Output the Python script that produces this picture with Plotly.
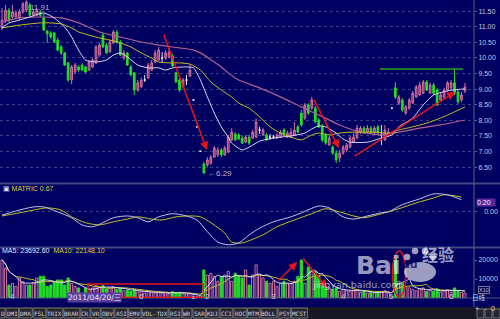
import plotly.graph_objects as go
import pandas as pd

# ---------------- data ----------------
opens = [10.96,11.21,11.53,11.31,11.31,11.28,11.47,11.53,11.70,11.37,11.37,11.47,11.28,10.86,10.80,10.80,10.57,10.35,10.16,9.84,
         9.29,9.55,9.71,9.77,9.71,9.61,9.71,9.84,10.09,10.73,10.41,10.19,10.48,10.83,10.51,9.99,10.16,9.71,9.52,8.97,
         9.07,9.29,9.36,9.61,9.87,9.93,9.99,9.99,10.03,10.06,9.52,9.29,9.07,9.29,9.42,8.65,7.79,7.01,6.60,6.57,
         6.63,6.82,6.89,7.05,6.89,6.98,7.37,7.56,7.53,7.43,7.30,7.46,7.43,7.46,7.69,7.53,7.53,7.46,7.46,7.43,
         7.46,7.69,7.46,7.46,7.53,7.79,8.23,8.07,8.49,8.39,8.39,8.01,7.79,7.53,7.21,7.14,6.95,6.79,6.95,7.05,
         7.14,7.30,7.43,7.62,7.75,7.62,7.75,7.59,7.79,7.53,7.37,7.53,8.39,9.04,8.55,8.65,8.23,8.39,8.55,8.75,
         8.81,8.87,9.23,8.87,9.13,8.97,8.65,8.75,8.97,9.04,9.20,8.91,8.65,8.94]
highs = [11.60,11.70,11.60,11.70,11.53,11.57,11.79,11.91,11.76,11.57,11.60,11.53,11.41,10.89,10.86,10.83,10.64,10.41,10.19,9.87,
         9.77,9.84,9.77,9.84,9.74,9.93,9.99,10.41,10.48,10.80,10.48,10.57,10.89,10.89,10.57,10.25,10.19,9.77,9.55,9.29,
         9.36,9.45,9.84,9.93,10.25,10.35,10.19,10.25,10.32,10.13,9.55,9.36,9.36,9.45,9.77,8.65,7.79,7.01,6.66,6.82,
         6.89,7.18,7.14,7.11,7.18,7.53,7.75,7.62,7.59,7.50,7.53,7.53,7.69,8.07,7.79,7.75,7.59,7.56,7.53,7.59,
         7.69,7.75,7.66,7.75,7.95,7.85,8.33,8.55,8.55,8.75,8.46,8.07,7.88,7.59,7.50,7.21,7.05,7.05,7.21,7.27,
         7.50,7.59,7.85,7.82,7.82,7.85,7.82,7.82,7.85,7.85,7.85,7.75,8.39,9.22,8.81,8.71,8.49,8.71,8.94,9.13,
         9.23,9.29,9.29,9.20,9.20,9.04,8.91,9.04,9.26,9.29,9.62,8.97,8.91,9.20]
lows = [10.89,11.12,11.15,11.25,11.25,11.21,11.41,11.47,11.34,11.31,11.34,11.31,10.86,10.48,10.61,10.48,10.22,10.09,9.74,9.23,
        9.16,9.48,9.55,9.58,9.52,9.58,9.68,9.80,10.03,10.32,10.13,10.16,10.45,10.45,10.06,9.93,9.74,9.42,8.81,8.91,
        9.04,9.23,9.32,9.58,9.84,9.90,9.87,9.93,9.99,9.71,9.20,8.91,9.04,9.13,9.39,8.65,7.79,7.01,6.29,6.50,
        6.57,6.79,6.82,6.82,6.86,6.95,7.34,7.34,7.37,7.24,7.27,7.21,7.40,7.43,7.56,7.50,7.34,7.37,7.40,7.40,
        7.43,7.50,7.43,7.43,7.50,7.59,7.79,8.01,8.17,8.33,7.91,7.75,7.30,7.21,7.18,6.89,6.63,6.66,6.89,6.98,
        7.11,7.27,7.40,7.56,7.56,7.59,7.56,7.53,7.53,7.21,7.34,7.50,8.39,8.68,8.49,8.27,8.17,8.33,8.52,8.71,
        8.78,8.84,8.94,8.84,8.81,8.46,8.59,8.68,8.91,8.97,8.81,8.52,8.59,8.87]
closes = [11.21,11.53,11.21,11.47,11.44,11.47,11.73,11.79,11.37,11.47,11.53,11.37,10.89,10.77,10.67,10.51,10.25,10.16,9.77,9.29,
          9.71,9.77,9.61,9.61,9.55,9.87,9.93,10.35,10.41,10.35,10.16,10.51,10.83,10.51,10.09,10.16,9.77,9.45,8.97,9.20,
          9.29,9.29,9.77,9.84,10.16,10.25,9.99,10.16,10.19,9.74,9.23,8.97,9.29,9.29,9.61,8.65,7.79,7.01,6.31,6.73,
          6.82,7.11,7.05,6.89,7.11,7.46,7.62,7.37,7.40,7.27,7.46,7.27,7.62,7.95,7.69,7.69,7.37,7.46,7.46,7.53,
          7.62,7.53,7.59,7.62,7.69,7.62,7.85,8.49,8.23,8.65,7.95,7.79,7.37,7.27,7.43,6.95,6.73,6.95,7.14,7.21,
          7.43,7.46,7.75,7.75,7.62,7.75,7.59,7.75,7.59,7.53,7.69,7.62,8.39,8.75,8.75,8.33,8.43,8.65,8.87,9.07,
          9.13,9.23,8.97,9.13,8.87,8.49,8.81,8.97,9.20,9.20,8.87,8.59,8.81,9.07]
volumes = [20000,15800,6800,7700,6000,10500,8600,6800,6800,7700,10500,11400,11400,6000,6800,8200,9500,9500,6800,10500,
           7700,6000,5300,2600,5300,4500,5300,6500,5800,6500,4800,5300,6000,4500,5300,3800,4200,3500,4500,3200,
           3500,2600,3500,3000,2600,3200,2400,2800,2300,3300,2600,3000,2200,2000,2400,800,900,1100,14700,12100,
           13000,11400,8800,11400,12100,14000,8800,13000,11400,10500,14700,6800,12100,17400,12100,10500,8800,7700,8800,6000,
           7700,8800,7700,7700,8800,11400,20000,7700,16300,14700,14000,11400,7700,6000,5300,4400,5300,3500,4400,3800,
           3500,4200,4400,3000,3500,2600,3000,2400,3200,3500,3800,2600,900,21000,8800,7700,6000,5300,4400,3800,
           4800,5300,3500,4200,3500,4800,3200,3800,4400,3000,5300,3800,3000,2600]

ma_white_idx = [0,2,5,8,12,15,18,20,22,24,27,30,32,34,36,39,42,45,47,49,53,55,57,59,61,63,65,66,69,71,
                74,78,83,87,89,91,93,96,98,100,105,109,112,114,118,121,124,128,132,133]
ma_white_val = [10.96,11.12,11.21,11.31,11.44,11.28,10.99,10.67,10.25,9.93,9.87,9.93,10.09,10.16,10.03,9.77,9.68,9.68,9.61,9.68,
                9.71,9.68,9.29,8.75,8.23,7.79,7.46,7.27,7.05,7.14,7.33,7.43,7.50,7.59,7.72,7.82,7.79,7.59,7.40,7.30,
                7.30,7.43,7.53,7.79,8.07,8.49,8.81,8.94,9.00,9.00]
ma_yellow_idx = [0,5,11,14,17,20,22,25,28,31,34,37,40,43,45,48,51,54,57,60,63,66,68,71,74,77,80,83,86,89,
                 91,94,97,100,103,107,111,114,118,122,126,130,133]
ma_yellow_val = [10.96,11.05,11.12,11.12,11.09,10.96,10.83,10.73,10.64,10.57,10.48,10.35,10.16,9.99,9.87,9.84,9.84,9.80,9.61,9.23,
                 8.97,8.75,8.55,8.39,8.11,7.79,7.59,7.46,7.37,7.53,7.59,7.53,7.59,7.62,7.62,7.62,7.59,7.69,7.79,7.91,
                 8.07,8.27,8.43]
ma_mauve_idx = [0,5,11,17,22,28,34,40,45,51,55,57,63,65,68,74,80,86,91,97,103,109,114,120,126,133]
ma_mauve_val = [11.15,11.28,11.31,11.28,11.12,10.83,10.67,10.51,10.41,10.32,10.25,10.16,9.71,9.52,9.29,9.04,8.75,8.43,8.17,7.85,
                7.62,7.53,7.62,7.75,7.85,8.01]

mtx_white_idx = [0,4,9,12,16,20,23,26,29,32,36,39,42,45,49,53,56,59,62,65,68,71,74,78,83,86,91,94,98,101,
                 105,109,111,115,120,124,128,132]
mtx_white_val = [-0.07,0.02,0.11,0.11,0.00,-0.13,-0.29,-0.33,-0.24,-0.13,-0.09,-0.13,-0.22,-0.11,-0.04,-0.09,-0.18,-0.44,-0.67,-0.73,
                 -0.69,-0.51,-0.36,-0.22,-0.11,-0.02,0.13,0.09,-0.11,-0.16,-0.09,-0.02,0.00,0.16,0.29,0.40,0.38,0.27]
mtx_yellow_idx = [0,5,9,13,17,20,24,28,32,36,39,43,46,50,54,57,60,64,66,69,71,75,79,84,89,93,97,101,104,109,
                  114,119,124,127,132]
mtx_yellow_val = [-0.09,-0.02,0.04,0.09,0.04,-0.11,-0.24,-0.29,-0.22,-0.16,-0.11,-0.16,-0.18,-0.11,-0.09,-0.11,-0.24,-0.47,-0.67,-0.69,
                  -0.64,-0.51,-0.33,-0.18,-0.04,0.07,0.00,-0.09,-0.13,-0.04,0.07,0.20,0.31,0.38,0.33]

month_tick_idx = [3, 40, 55, 59, 78, 98, 112, 129]
month_tick_txt = ["4", "6", "1", "2", "3", "4", "5", "6"]
price_ticks = [6.5, 7.0, 7.5, 8.0, 8.5, 9.0, 9.5, 10.0, 10.5, 11.0, 11.5]
vol_ticks = [10000, 20000]
buttons = ["DMI","DMA","FSL","TRIX","BRAR","CR","VR","OBV","ASI","EMV","VOL-TDX","RSI","WR","SAR",
           "KDJ","CCI","ROC","MTM","BOLL","PSY","MCST"]

# ---------------- styling ----------------
W, H = 500, 319
BG = "#000060"
GRID = "#36428c"
TXT = "#c4c8dc"
UP_LINE, UP_FILL = "#d0709c", "#8a3468"
DN = "#22e022"
WHITE_MA, YEL_MA, MAUVE_MA = "#dcdcf4", "#c8c020", "#b4608e"
RED = "#e8141a"
PX = 474 / W

def py(p):  # pixel row -> paper y
    return 1 - p / H

n = len(closes)
idx = list(range(n))
normal = [i for i in idx if opens[i] != closes[i]]
doji = [i for i in idx if opens[i] == closes[i]]

fig = go.Figure()

fig.add_trace(go.Candlestick(
    x=normal, open=[opens[i] for i in normal], high=[highs[i] for i in normal],
    low=[lows[i] for i in normal], close=[closes[i] for i in normal],
    increasing=dict(line=dict(color=UP_LINE, width=1), fillcolor=UP_FILL),
    decreasing=dict(line=dict(color=DN, width=1), fillcolor=DN),
    whiskerwidth=0, xaxis="x", yaxis="y", hoverinfo="skip", showlegend=False))
fig.add_trace(go.Candlestick(
    x=doji, open=[opens[i] for i in doji], high=[highs[i] for i in doji],
    low=[lows[i] for i in doji], close=[closes[i] for i in doji],
    increasing=dict(line=dict(color="#e8e8f8", width=1), fillcolor="#e8e8f8"),
    decreasing=dict(line=dict(color="#e8e8f8", width=1), fillcolor="#e8e8f8"),
    whiskerwidth=0, xaxis="x", yaxis="y", hoverinfo="skip", showlegend=False))

for xs, ys, col, wd in [(ma_mauve_idx, ma_mauve_val, MAUVE_MA, 1.2), (ma_yellow_idx, ma_yellow_val, YEL_MA, 1),
                        (ma_white_idx, ma_white_val, WHITE_MA, 1)]:
    fig.add_trace(go.Scatter(x=xs, y=ys, mode="lines", line=dict(color=col, width=wd, shape="spline", smoothing=0.6),
                             xaxis="x", yaxis="y", hoverinfo="skip", showlegend=False))

for xs, ys, col in [(mtx_yellow_idx, mtx_yellow_val, YEL_MA), (mtx_white_idx, mtx_white_val, "#c0c0e4")]:
    fig.add_trace(go.Scatter(x=xs, y=ys, mode="lines", line=dict(color=col, width=1, shape="spline", smoothing=0.8),
                             xaxis="x", yaxis="y2", hoverinfo="skip", showlegend=False))

up = [closes[i] >= opens[i] for i in idx]
fig.add_trace(go.Bar(x=idx, y=volumes, width=0.62,
                     marker=dict(color=[BG if u else DN for u in up],
                                 line=dict(color=[UP_LINE if u else DN for u in up], width=1)),
                     xaxis="x", yaxis="y3", hoverinfo="skip", showlegend=False))
vs = pd.Series(volumes, dtype=float)
fig.add_trace(go.Scatter(x=idx, y=vs.rolling(10, min_periods=1).mean(), mode="lines",
                         line=dict(color=YEL_MA, width=1, shape="spline"), xaxis="x", yaxis="y3",
                         hoverinfo="skip", showlegend=False))
fig.add_trace(go.Scatter(x=idx, y=vs.rolling(5, min_periods=1).mean(), mode="lines",
                         line=dict(color=WHITE_MA, width=1, shape="spline"), xaxis="x", yaxis="y3",
                         hoverinfo="skip", showlegend=False))

font = "Liberation Sans, DejaVu Sans, Noto Sans CJK SC"
shapes = []
ann = []

# panel separators and frame
for yy in (183.5, 247.5):
    shapes.append(dict(type="line", xref="paper", yref="paper", x0=0, x1=1, y0=py(yy), y1=py(yy),
                       line=dict(color="#3c4a80", width=2)))
shapes.append(dict(type="line", xref="paper", yref="paper", x0=0, x1=1, y0=py(298), y1=py(298),
                   line=dict(color="#4a5878", width=1)))
shapes.append(dict(type="line", xref="paper", yref="paper", x0=PX, x1=PX, y0=py(307), y1=1,
                   line=dict(color="#4a6a7a", width=1)))
# button bar
shapes.append(dict(type="rect", xref="paper", yref="paper", x0=0, x1=1, y0=0, y1=py(307),
                   fillcolor="#181824", line=dict(width=0), layer="above"))
bx = -3.0
labels_all = ["D"] + buttons
for j, b in enumerate(labels_all):
    w = 3.4 * len(b) + 2.4 if j else 8
    shapes.append(dict(type="rect", xref="paper", yref="paper", x0=bx / W, x1=(bx + w) / W,
                       y0=py(318), y1=py(308), fillcolor="#26262f", line=dict(color="#70707c", width=1), layer="above"))
    ann.append(dict(xref="paper", yref="paper", x=(bx + w / 2 + (2 if j == 0 else 0)) / W, y=py(313), text=b,
                    showarrow=False, font=dict(family="DejaVu Sans Mono", size=6, color="#d8d8e0"),
                    xanchor="center", yanchor="middle"))
    bx += w + 1
for k, t in enumerate(["+", "-", "0"]):
    x0 = 477 + k * 8
    shapes.append(dict(type="rect", xref="paper", yref="paper", x0=x0 / W, x1=(x0 + 7) / W, y0=py(318), y1=py(309),
                       fillcolor="#26262f", line=dict(color="#70707c", width=1), layer="above"))
    ann.append(dict(xref="paper", yref="paper", x=(x0 + 3.5) / W, y=py(313.5), text=t, showarrow=False,
                    font=dict(family=font, size=7, color="#d8d8e0")))
ann.append(dict(xref="paper", yref="paper", x=488 / W, y=py(303.5), text="日线", showarrow=False,
                font=dict(family="Noto Sans CJK SC", size=6.5, color="#d8d8e0")))

# month labels and date box
for t, v in zip(month_tick_txt, month_tick_idx):
    ann.append(dict(xref="x", yref="paper", x=v, y=py(302.5), text=t, showarrow=False,
                    font=dict(family=font, size=8, color=TXT)))
ann.append(dict(xref="paper", yref="paper", x=67 / W, y=py(302.5), text="2011/04/20/三", showarrow=False,
                bgcolor="#5a3c98", borderpad=0, font=dict(family="DejaVu Sans, Noto Sans CJK SC", size=7.5, color="#f0f0ff")))

# panel titles
ann.append(dict(xref="paper", yref="paper", x=0.002, y=py(188), xanchor="left", yanchor="middle", showarrow=False,
                text="<span style='color:#e0e0f0'>▣</span> MATRIC 0.67",
                font=dict(family=font, size=7, color="#dcd040")))
ann.append(dict(xref="paper", yref="paper", x=0.0, y=py(250.5), xanchor="left", yanchor="middle", showarrow=False,
                text="MA5: 23692.60  <span style='color:#dcd040'>MA10: 22148.10</span>",
                font=dict(family=font, size=7, color="#e8e8f8")))
ann.append(dict(xref="paper", yref="y2", x=PX + 0.003, y=0.2, xanchor="left", yanchor="middle", showarrow=False,
                text="0.20  ", bgcolor="#5a2a9c", borderpad=0, font=dict(family=font, size=7, color="#f0f0ff")))
ann.append(dict(xref="paper", yref="paper", x=478 / W, y=py(289.5), xanchor="left", yanchor="middle", showarrow=False,
                text="X10", bordercolor="#7a7a8a", borderwidth=1, borderpad=0,
                font=dict(family=font, size=5.5, color="#c8c8d8")))

# high / low labels
ann.append(dict(xref="x", yref="paper", x=11, y=py(1), text="11.91", showarrow=False,
                font=dict(family=font, size=8, color="#b0b0c8")))
ann.append(dict(xref="x", yref="y", x=58.6, y=6.30, xanchor="left", yanchor="middle", text="←6.29",
                showarrow=False, font=dict(family=font, size=8, color="#b8b8cc")))

# red markings
for (x0, y0, x1, y1, yr) in [(46.3, 10.80, 58.9, 7.05, "y"), (89.4, 8.71, 96.8, 7.11, "y"),
                             (100.9, 6.82, 130.2, 8.91, "y"), (79, 8400, 84.8, 18900, "y3"),
                             (86.2, 21600, 93.4, 5300, "y3")]:
    ann.append(dict(xref="x", yref=yr, axref="x", ayref=yr, x=x1, y=y1, ax=x0, ay=y0, text="",
                    showarrow=True, arrowhead=2, arrowsize=1.1, arrowwidth=1.5, arrowcolor=RED))
shapes.append(dict(type="line", xref="x", yref="y", x0=108.6, x1=132.5, y0=9.64, y1=9.64,
                   line=dict(color="#1c7a30", width=2)))
shapes.append(dict(type="circle", xref="x", yref="y3", x0=112.2, x1=116.0, y0=600, y1=24700,
                   line=dict(color=RED, width=1.5)))
shapes.append(dict(type="rect", xref="x", yref="y3", x0=24.7, x1=57.8, y0=200, y1=7370,
                   line=dict(color=RED, width=1.5)))

# watermark
wm = "rgba(255,255,255,0.62)"
ann.append(dict(xref="paper", yref="paper", x=354 / W, y=py(265.5), xanchor="left", yanchor="middle", showarrow=False,
                text="<b>Bai</b>", font=dict(family="DejaVu Sans", size=25, color=wm)))
for (cx, cy, r) in [(407, 257, 3.3), (415, 251, 3.3), (425, 251, 3.3), (433, 257, 3.3)]:
    shapes.append(dict(type="circle", xref="paper", yref="paper", x0=(cx - r) / W, x1=(cx + r) / W,
                       y0=py(cy + r), y1=py(cy - r), fillcolor=wm, line=dict(width=0), layer="above"))
shapes.append(dict(type="circle", xref="paper", yref="paper", x0=404 / W, x1=436 / W, y0=py(282), y1=py(262),
                   fillcolor=wm, line=dict(width=0), layer="above"))
ann.append(dict(xref="paper", yref="paper", x=420 / W, y=py(273), showarrow=False, text="<b>du</b>",
                font=dict(family="DejaVu Sans", size=11, color="rgba(0,0,96,0.75)")))
ann.append(dict(xref="paper", yref="paper", x=456 / W, y=py(268), showarrow=False, text="<b>经验</b>",
                font=dict(family="Noto Sans CJK SC", size=16, color=wm)))
ann.append(dict(xref="paper", yref="paper", x=403 / W, y=py(292), showarrow=False, text="jingyan.baidu.com",
                font=dict(family="DejaVu Sans", size=9.5, color=wm)))

axis_common = dict(anchor="x", side="right", zeroline=False, showline=False, automargin=False,
                   tickfont=dict(family=font, size=7, color=TXT), ticks="outside", ticklen=2,
                   tickcolor="#5a6a8a", fixedrange=True)

fig.update_layout(
    width=W, height=H, margin=dict(l=0, r=0, t=0, b=0, pad=0),
    paper_bgcolor=BG, plot_bgcolor=BG, showlegend=False, hovermode=False,
    xaxis=dict(domain=[0, PX], range=[-0.575, 135.6], anchor="y3", showgrid=False, zeroline=False,
               showticklabels=False, ticks="", showline=False, rangeslider=dict(visible=False), fixedrange=True),
    yaxis=dict(domain=[py(183), 1], range=[5.99, 11.855], tickvals=price_ticks, tickformat=".2f",
               showgrid=True, gridcolor=GRID, griddash="dot", gridwidth=1, **axis_common),
    yaxis2=dict(domain=[py(247), py(184)], range=[-0.78, 0.62], tickvals=[0], ticktext=["   0.00"],
                showgrid=True, gridcolor=GRID, griddash="dot", gridwidth=1, **axis_common),
    yaxis3=dict(domain=[py(298), py(248)], range=[0, 26316], tickvals=vol_ticks, ticktext=["10000", "20000"],
                showgrid=False, **axis_common),
    shapes=shapes, annotations=ann,
)

fig.write_html("out.html", config={"displayModeBar": False, "staticPlot": True})
